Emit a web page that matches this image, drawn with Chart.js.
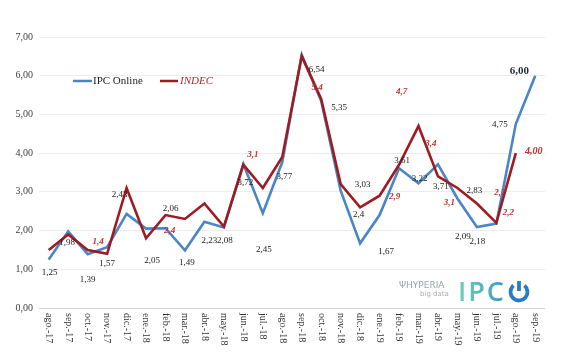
<!DOCTYPE html>
<html>
<head>
<meta charset="utf-8">
<script src="https://cdn.jsdelivr.net/npm/chart.js@4.4.1/dist/chart.umd.min.js"></script>
<style>
html, body { margin: 0; padding: 0; background: #fff; }
#wrap { width: 571px; height: 360px; }
</style>
</head>
<body>
<div id="wrap"><canvas id="ipcChart" width="571" height="360"></canvas></div>
<script>
const months = ["ago.-17", "sep.-17", "oct.-17", "nov.-17", "dic.-17", "ene.-18", "feb.-18", "mar.-18",
    "abr.-18", "may.-18", "jun.-18", "jul.-18", "ago.-18", "sep.-18", "oct.-18", "nov.-18", "dic.-18",
    "ene.-19", "feb.-19", "mar.-19", "abr.-19", "may.-19", "jun.-19", "jul.-19", "ago.-19", "sep.-19"];

const ipcOnline = [1.25, 1.98, 1.39, 1.57, 2.43, 2.05, 2.06, 1.49, 2.23, 2.08, 3.72, 2.45, 3.77, 6.54, 5.35,
    3.03, 1.67, 2.40, 3.61, 3.22, 3.71, 2.83, 2.09, 2.18, 4.75, 6.00];
const indec = [1.5, 1.9, 1.5, 1.4, 3.1, 1.8, 2.4, 2.3, 2.7, 2.1, 3.7, 3.1, 3.9, 6.5, 5.4,
    3.2, 2.6, 2.9, 3.7, 4.7, 3.4, 3.1, 2.7, 2.2, 4.0, null];

// texto de las etiquetas tal como aparecen
const ipcLabels = ["1,25", "1,98", "1,39", "1,57", "2,43", "2,05", "2,06", "1,49", "2,23", "2,08", "3,72", "2,45", "3,77", "6,54", "5,35",
    "3,03", "1,67", "2,4", "3,61", "3,22", "3,71", "2,83", "2,09", "2,18", "4,75", "6,00"];
const indecLabels = [null, null, null, "1,4", null, null, "2,4", null, null, null, null, "3,1", null, null, "5,4",
    null, null, "2,9", null, "4,7", "3,4", "3,1", "2,7", "2,2", "4,00", null];

const yTicks = [0, 1, 2, 3, 4, 5, 6, 7];

// desplazamiento de cada etiqueta respecto a su punto
const ipcOffsets = [[1, 13], [-1, 11], [0, 25], [0, 16], [-7, -19], [6, 32], [5, -20], [2, 12], [5, 19], [1, 13],
    [2, 19], [1, 36], [2, 15], [15, 15], [18, 7], [22, -6], [26, 8], [-21, 0], [3, -8], [1, -5], [3, 22],
    [17, -8], [-14, 10], [-19, 18], [-16, 1], [-16, -5]];
const indecOffsets = [null, null, null, [-9, -12], null, null, [4, 16], null, null, null, null, [-10, -33], null, null, [-4, -11],
    null, null, [15, 1], null, [-17, -34], [-7, -33], [-8, 15], [23, -11], [12, -10], [18, -2], null];

const BLUE = "#4a86c6";
const RED = "#9e1b22";
const SERIF = "'Liberation Serif', 'Times New Roman', serif";

const extras = {
    id: "extras",
    afterDatasetsDraw(chart) {
        const ctx = chart.ctx;
        const xs = chart.scales.x;
        ctx.save();

        // etiquetas de datos
        const blueMeta = chart.getDatasetMeta(1);
        ctx.textAlign = "center";
        ctx.textBaseline = "middle";
        ipcLabels.forEach((txt, i) => {
            if (!txt) return;
            const p = blueMeta.data[i];
            const last = i === ipcLabels.length - 1;
            ctx.font = last ? "bold 11px " + SERIF : "9px " + SERIF;
            ctx.fillStyle = last ? "#1f2d3d" : "#1a1a1a";
            ctx.fillText(txt, p.x + ipcOffsets[i][0], p.y + ipcOffsets[i][1]);
        });
        const redMeta = chart.getDatasetMeta(0);
        indecLabels.forEach((txt, i) => {
            if (!txt) return;
            const p = redMeta.data[i];
            const big = txt.length > 3;
            ctx.font = "italic bold " + (big ? 10 : 9) + "px " + SERIF;
            ctx.fillStyle = "#c0302f";
            ctx.fillText(txt, p.x + indecOffsets[i][0], p.y + indecOffsets[i][1]);
        });

        // meses en vertical
        ctx.font = "10px " + SERIF;
        ctx.fillStyle = "#333";
        ctx.textAlign = "left";
        months.forEach((m, i) => {
            const x = xs.getPixelForValue(i);
            ctx.save();
            ctx.translate(x, 313);
            ctx.rotate(Math.PI / 2);
            ctx.fillText(m, 0, 0);
            ctx.restore();
        });

        // leyenda
        ctx.lineWidth = 2.5;
        ctx.strokeStyle = BLUE;
        ctx.beginPath(); ctx.moveTo(73, 81); ctx.lineTo(92, 81); ctx.stroke();
        ctx.strokeStyle = RED;
        ctx.beginPath(); ctx.moveTo(160, 81); ctx.lineTo(178, 81); ctx.stroke();
        ctx.font = "11px " + SERIF;
        ctx.fillStyle = "#222";
        ctx.fillText("IPC Online", 93, 81);
        ctx.font = "italic 11px " + SERIF;
        ctx.fillStyle = "#b3262b";
        ctx.fillText("INDEC", 180, 81);

        // logos
        ctx.fillStyle = "#9aa6a6";
        ctx.font = "9px 'DejaVu Sans', sans-serif";
        ctx.fillText("\u03A8HYPERIA", 399, 286);
        ctx.font = "7px 'DejaVu Sans', sans-serif";
        ctx.fillStyle = "#a8b0b0";
        ctx.fillText("big data", 420, 294);

        const g = ctx.createLinearGradient(458, 0, 530, 0);
        g.addColorStop(0, "#6fd0b2");
        g.addColorStop(0.6, "#3aa0c0");
        g.addColorStop(1, "#2a78c0");
        ctx.fillStyle = g;
        ctx.font = "600 27px 'Open Sans', sans-serif";
        ctx.letterSpacing = "2px";
        ctx.textBaseline = "alphabetic";
        ctx.fillText("IPC", 458, 301);
        ctx.letterSpacing = "0px";
        ctx.strokeStyle = "#2a7cc2";
        ctx.lineWidth = 3.8;
        ctx.beginPath();
        ctx.arc(519, 292, 8.5, -Math.PI / 2 + 0.7, -Math.PI / 2 - 0.7 + Math.PI * 2);
        ctx.stroke();
        ctx.beginPath(); ctx.moveTo(519, 281); ctx.lineTo(519, 291); ctx.stroke();

        ctx.restore();
    }
};

new Chart(document.getElementById("ipcChart"), {
    type: "line",
    data: {
        labels: months,
        datasets: [
            {
                label: "INDEC",
                data: indec,
                borderColor: RED,
                borderWidth: 2.6,
                pointRadius: 0,
                tension: 0,
                order: 0
            },
            {
                label: "IPC Online",
                data: ipcOnline,
                borderColor: BLUE,
                borderWidth: 2.6,
                pointRadius: 0,
                tension: 0,
                order: 1
            }
        ]
    },
    options: {
        responsive: false,
        animation: false,
        layout: { padding: { top: 37, right: 26, bottom: 0, left: 0 } },
        plugins: { legend: { display: false }, tooltip: { enabled: false } },
        scales: {
            x: {
                offset: true,
                grid: { display: false },
                border: { display: false },
                ticks: { display: false },
                afterFit: s => { s.height = 52; }
            },
            y: {
                min: 0,
                max: 7,
                afterBuildTicks: s => { s.ticks = yTicks.map(v => ({ value: v })); },
                afterFit: s => { s.width = 39; },
                border: { display: false },
                grid: {
                    drawTicks: false,
                    color: c => (c.tick && c.tick.value === 0) ? "#d2d2d2" : "#ececec"
                },
                ticks: {
                    padding: 6,
                    color: "#404040",
                    font: { family: SERIF, size: 10 },
                    callback: v => v.toFixed(2).replace(".", ",")
                }
            }
        }
    },
    plugins: [extras]
});
</script>
</body>
</html>
